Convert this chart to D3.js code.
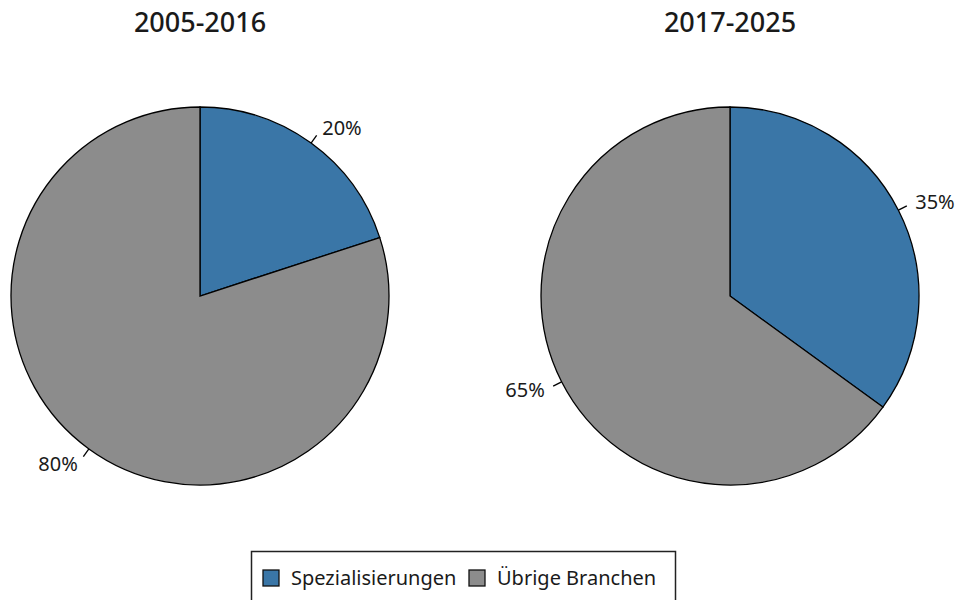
<!DOCTYPE html>
<html>
<head>
<meta charset="utf-8">
<script src="https://cdn.jsdelivr.net/npm/d3@7"></script>
<style>
  body { margin: 0; background: #fff; }
  text { font-family: "Noto Sans", "Open Sans", sans-serif; fill: #1a1a1a; }
</style>
</head>
<body>
<svg id="chart"></svg>
<script>
// chart data
const categories = ['Spezialisierungen', 'Übrige Branchen']
const periods = ['2005-2016', '2017-2025']
const shares2005 = [20, 80]
const shares2017 = [35, 65]
const colors = ['#3a76a7', '#8c8c8c']

const width = 960
const height = 600
const radius = 189

const svg = d3.select('#chart')
  .attr('width', width)
  .attr('height', height)

const pie = d3.pie().sort(null).value(d => d)
const arc = d3.arc().innerRadius(0).outerRadius(radius)

const centers = d3.scalePoint()
  .domain(periods)
  .range([200, 730])

const series = [shares2005, shares2017]

periods.forEach((p, i) => {
  const g = svg.append('g')
    .attr('transform', `translate(${centers(p)},296)`)

  // title
  svg.append('text')
    .attr('x', centers(p))
    .attr('y', 32)
    .attr('text-anchor', 'middle')
    .style('font-size', '27px')
    .style('font-weight', 500)
    .text(p)

  const slices = pie(series[i])

  g.selectAll('path')
    .data(slices)
    .enter()
    .append('path')
    .attr('d', arc)
    .attr('fill', (d, j) => colors[j])
    .attr('stroke', '#000')
    .attr('stroke-width', 1.3)

  // tick marks (r to 1.05r) and labels at 1.1r
  slices.forEach(d => {
    const a = (d.startAngle + d.endAngle) / 2
    const sx = Math.sin(a), sy = -Math.cos(a)
    g.append('line')
      .attr('x1', sx * radius).attr('y1', sy * radius)
      .attr('x2', sx * radius * 1.05).attr('y2', sy * radius * 1.05)
      .attr('stroke', '#000')
      .attr('stroke-width', 1.3)
    g.append('text')
      .attr('x', sx * radius * 1.1)
      .attr('y', sy * radius * 1.1)
      .attr('dy', '0.35em')
      .attr('text-anchor', sx >= 0 ? 'start' : 'end')
      .style('font-size', '20px')
      .text(d.data + '%')
  })
})

// legend
const legend = svg.append('g')
legend.append('rect')
  .attr('x', 251.5).attr('y', 551.5)
  .attr('width', 424).attr('height', 60)
  .attr('fill', '#fff')
  .attr('stroke', '#222')
  .attr('stroke-width', 1.5)

const legendX = [263, 469]
categories.forEach((c, i) => {
  legend.append('rect')
    .attr('x', legendX[i]).attr('y', 570)
    .attr('width', 16).attr('height', 16)
    .attr('fill', colors[i])
    .attr('stroke', '#111')
    .attr('stroke-width', 1.3)
  legend.append('text')
    .attr('x', legendX[i] + 28)
    .attr('y', 585)
    .style('font-size', '20px')
    .text(c)
})
</script>
</body>
</html>
